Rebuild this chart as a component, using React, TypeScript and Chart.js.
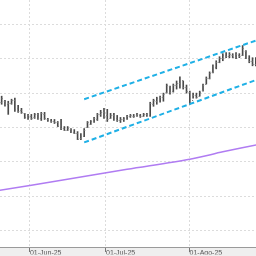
import React, { useEffect, useRef } from 'react';
import { Chart, registerables } from 'chart.js';

Chart.register(...registerables);

// OHLC bars (price units), one per trading session, left to right
const highs = [149, 145, 144, 146, 147, 140, 137, 132, 131, 131, 132, 132, 133, 133, 127, 126, 126, 124, 126, 119,
  119, 117, 116, 114, 112, 117, 124, 125, 128, 132, 135, 137, 136, 132, 132, 130, 128, 128, 130, 131,
  131, 132, 131, 132, 132, 143, 146, 148, 149, 152, 161, 159, 161, 164, 168, 164, 160, 154, 152, 152,
  154, 161, 168, 173, 180, 184, 188, 191, 192, 192, 191, 192, 191, 199, 194, 189, 187, 187];
const lows = [141, 139, 131, 141, 134, 133, 132, 127, 126, 126, 127, 126, 125, 126, 124, 123, 122, 119, 116, 115,
  115, 113, 112, 106, 106, 109, 118, 121, 123, 125, 129, 127, 124, 127, 125, 124, 123, 124, 126, 128,
  128, 129, 128, 129, 129, 129, 139, 141, 143, 144, 152, 151, 153, 156, 157, 156, 152, 141, 147, 147,
  149, 154, 161, 166, 172, 176, 182, 184, 187, 187, 187, 186, 187, 189, 186, 182, 179, 179];
const opens = [143, 144, 141, 142, 145, 137, 135, 132, 128, 129, 128, 131, 127, 131, 126, 125, 124, 123, 121, 118,
  116, 117, 114, 113, 108, 110, 119, 122, 124, 126, 131, 133, 130, 127, 130, 127, 125, 126, 127, 129,
  129, 130, 130, 129, 131, 130, 141, 144, 146, 148, 153, 159, 154, 160, 162, 165, 158, 153, 145, 150,
  149, 155, 161, 167, 173, 178, 183, 187, 190, 189, 190, 188, 190, 190, 194, 187, 184, 181];
const closes = [147, 141, 142, 145, 136, 134, 133, 128, 130, 127, 131, 127, 132, 127, 125, 124, 123, 120, 118, 116,
  118, 114, 113, 107, 110, 116, 123, 124, 127, 131, 133, 129, 126, 130, 127, 125, 126, 127, 129, 130,
  129, 131, 129, 131, 130, 142, 145, 147, 148, 151, 160, 153, 160, 162, 166, 158, 154, 143, 150, 148,
  153, 160, 167, 172, 179, 183, 187, 190, 189, 191, 188, 191, 189, 197, 187, 184, 181, 185];

// Long moving average (purple)
const maX = [-1, 19, 38, 57, 67, 78];
const maY = [55.7, 66.5, 76.8, 86.7, 94, 101.5];

// Trend channel (cyan dashed)
const upperX = [25, 78];
const upperY = [146, 205];
const lowerX = [25, 78];
const lowerY = [103.3, 166.1];

// Axis ticks
const monthTickPos = [8.58, 31.61, 56.91];
const monthTickLabels = ['01-Jun-25', '01-Jul-25', '01-Ago-25'];
const priceGrid = [16, 50, 84, 118, 152, 186, 220];

const X_MIN = -0.5;
const X_MAX = 77.05;
const Y_MIN = 0;
const Y_MAX = 244;

const BAR_COLOR = '#4a4a4a';

const bgPlugin = {
  id: 'bgPlugin',
  beforeDraw(chart: any) {
    const { ctx, width, height, chartArea } = chart;
    ctx.save();
    ctx.fillStyle = '#ffffff';
    ctx.fillRect(0, 0, width, height);
    ctx.fillStyle = '#efefef';
    ctx.fillRect(0, chartArea.bottom, width, height - chartArea.bottom);
    ctx.restore();
  },
};

const ohlcTicks = {
  id: 'ohlcTicks',
  afterDatasetDraw(chart: any, args: any) {
    if (args.index !== 0) return;
    const { ctx, chartArea } = chart;
    const ys = chart.scales.y;
    const meta = chart.getDatasetMeta(0);
    ctx.save();
    ctx.beginPath();
    ctx.rect(chartArea.left, chartArea.top, chartArea.right - chartArea.left, chartArea.bottom - chartArea.top);
    ctx.clip();
    ctx.strokeStyle = '#7a7a7a';
    ctx.lineWidth = 1;
    meta.data.forEach((el: any, i: number) => {
      const x = el.x;
      const yo = Math.round(ys.getPixelForValue(opens[i])) + 0.5;
      const yc = Math.round(ys.getPixelForValue(closes[i])) + 0.5;
      ctx.beginPath();
      ctx.moveTo(x - 1.1, yo);
      ctx.lineTo(x, yo);
      ctx.moveTo(x, yc);
      ctx.lineTo(x + 1.1, yc);
      ctx.stroke();
    });
    ctx.restore();
  },
};

export default function App() {
  const ref = useRef<HTMLCanvasElement | null>(null);

  useEffect(() => {
    if (!ref.current) return;
    const chart = new Chart(ref.current, {
      type: 'bar',
      data: {
        datasets: [
          {
            type: 'bar',
            data: highs.map((h, i) => ({ x: i, y: [lows[i], h] })),
            backgroundColor: BAR_COLOR,
            borderWidth: 0,
            barThickness: 1,
            order: 3,
          } as any,
          {
            type: 'line',
            data: maX.map((x, i) => ({ x, y: maY[i] })),
            borderColor: '#b07cf2',
            borderWidth: 1.5,
            pointRadius: 0,
            tension: 0.3,
            order: 2,
          } as any,
          {
            type: 'line',
            data: upperX.map((x, i) => ({ x, y: upperY[i] })),
            borderColor: '#1fb0e6',
            borderWidth: 2,
            borderDash: [5, 3],
            pointRadius: 0,
            order: 1,
          } as any,
          {
            type: 'line',
            data: lowerX.map((x, i) => ({ x, y: lowerY[i] })),
            borderColor: '#1fb0e6',
            borderWidth: 2,
            borderDash: [5, 3],
            pointRadius: 0,
            order: 1,
          } as any,
        ],
      },
      options: {
        animation: false,
        responsive: true,
        maintainAspectRatio: false,
        layout: { padding: { left: 0, right: 0, top: 0, bottom: 1.6 } },
        plugins: { legend: { display: false }, tooltip: { enabled: false } },
        scales: {
          x: {
            type: 'linear',
            min: X_MIN,
            max: X_MAX,
            offset: false,
            afterBuildTicks: (s: any) => {
              s.ticks = monthTickPos.map((v) => ({ value: v }));
            },
            ticks: {
              callback: (_v: any, i: number) => monthTickLabels[i],
              align: 'start',
              autoSkip: false,
              maxRotation: 0,
              minRotation: 0,
              padding: -3,
              color: '#555555',
              font: { size: 7, family: '"Liberation Sans", Arial, sans-serif' },
            },
            grid: {
              offset: false,
              color: '#dcdcdc',
              lineWidth: 1,
              drawTicks: true,
              tickLength: 5,
              tickColor: '#777777',
              tickWidth: 1,
              tickBorderDash: [],
            },
            border: { display: true, color: '#9a9a9a', width: 1, dash: [2, 2] },
          } as any,
          y: {
            type: 'linear',
            position: 'right',
            min: Y_MIN,
            max: Y_MAX,
            afterBuildTicks: (s: any) => {
              s.ticks = priceGrid.map((v) => ({ value: v }));
            },
            ticks: { display: false },
            grid: { color: '#dcdcdc', lineWidth: 1, drawTicks: false },
            border: { display: false, dash: [2, 2] },
          } as any,
        },
      },
      plugins: [bgPlugin, ohlcTicks],
    });
    return () => chart.destroy();
  }, []);

  return (
    <div style={{ position: 'fixed', left: 0, top: 0, width: 256, height: 256 }}>
      <canvas ref={ref} />
    </div>
  );
}
